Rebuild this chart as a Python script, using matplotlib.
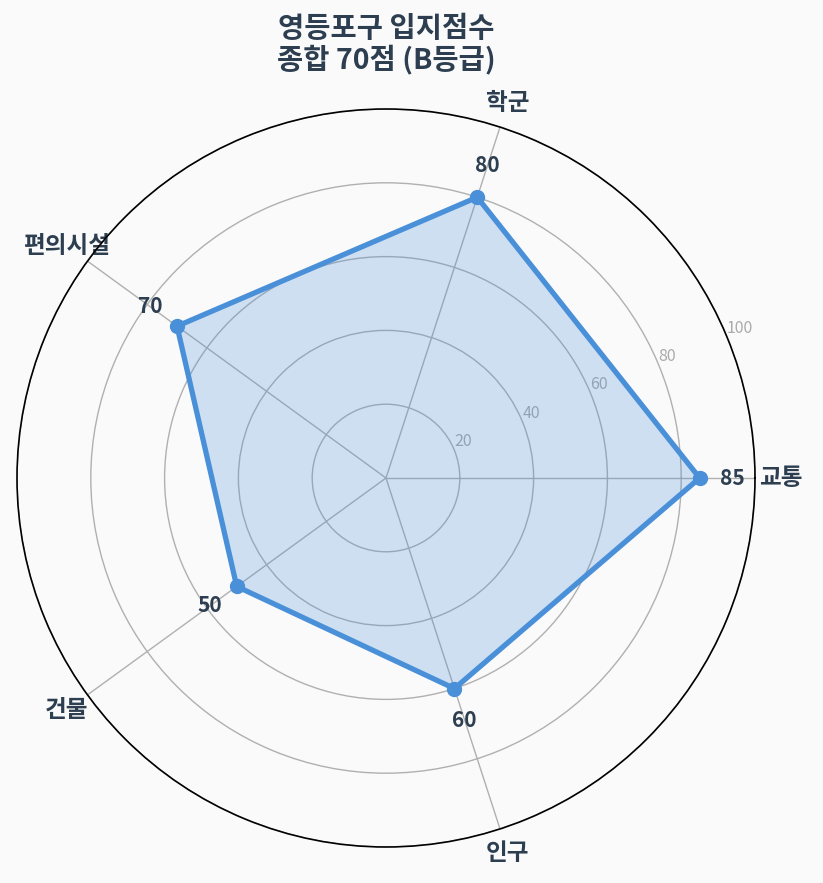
import numpy as np
import matplotlib
matplotlib.use("Agg")
import matplotlib.pyplot as plt

plt.rcParams['font.family'] = ['Noto Sans CJK KR', 'DejaVu Sans']

# 데이터
categories = ['교통', '학군', '편의시설', '건물', '인구']
scores = [85, 80, 70, 50, 60]
title_text = '영등포구 입지점수\n종합 70점 (B등급)'

line_color = '#4a90d9'
text_color = '#2c3e50'

n = len(categories)
angles = np.linspace(0, 2 * np.pi, n, endpoint=False)
ang_closed = np.append(angles, angles[0])
val_closed = np.append(scores, scores[0])

fig = plt.figure(figsize=(8.23, 8.83), dpi=100)
fig.patch.set_facecolor('#fafafa')
ax = fig.add_axes([17 / 823, 36 / 883, 738 / 823, 738 / 883], projection='polar')
ax.set_facecolor('#fafafa')

ax.fill(ang_closed, val_closed, color=line_color, alpha=0.25, zorder=2)
ax.plot(ang_closed, val_closed, color=line_color, linewidth=3.8, zorder=3)
ax.plot(angles, scores, 'o', color=line_color, markersize=10, zorder=4)

for a, v in zip(angles, scores):
    ax.text(a, v + 9, str(v), ha='center', va='center', fontsize=15,
            fontweight='bold', color=text_color, zorder=5)

ax.set_ylim(0, 100)
ax.set_rgrids([20, 40, 60, 80, 100], labels=['20', '40', '60', '80', '100'],
              angle=22.5, fontsize=11.5, color='#aaaaaa')
ax.set_thetagrids(np.degrees(angles), categories, fontsize=17,
                  fontweight='bold', color=text_color)
ax.tick_params(axis='x', pad=8)
ax.grid(color='#b0b0b0', linewidth=1)
ax.spines['polar'].set_color('black')
ax.spines['polar'].set_linewidth(1.2)

fig.text(386 / 823, 1 - 45 / 883, title_text, ha='center', va='center',
         fontsize=20.5, fontweight='bold', color=text_color, linespacing=1.05)

fig.savefig('out.png', dpi=100, facecolor=fig.get_facecolor())
